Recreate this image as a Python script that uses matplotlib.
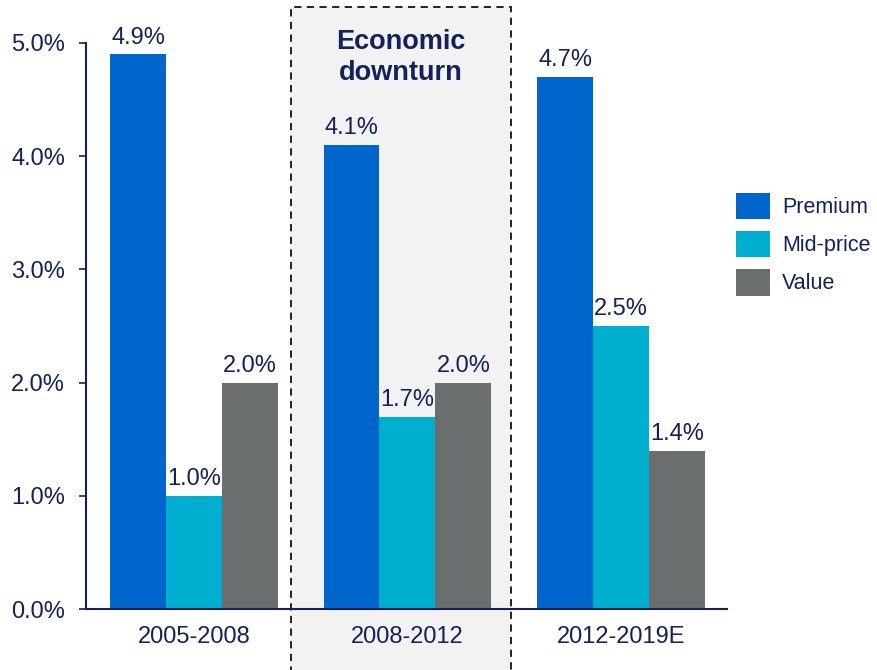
import matplotlib
matplotlib.use("Agg")
import matplotlib.pyplot as plt
from matplotlib.patches import Rectangle
import numpy as np

plt.rcParams['font.family'] = ['Liberation Sans', 'DejaVu Sans']

periods = ["2005-2008", "2008-2012", "2012-2019E"]
segments = ["Premium", "Mid-price", "Value"]
premium = [4.9, 4.1, 4.7]
mid_price = [1.0, 1.7, 2.5]
value = [2.0, 2.0, 1.4]
y_ticks = [0.0, 1.0, 2.0, 3.0, 4.0, 5.0]
highlight_label = "Economic\ndownturn"

navy = "#14215a"
colors = ["#0066cc", "#00aecf", "#6b6e6f"]

fig = plt.figure(figsize=(8.77, 6.70), dpi=100)
ax = fig.add_axes([0.098, 0.091, 0.731, 0.845])

x = np.arange(len(periods))
w = 0.262
series = [premium, mid_price, value]
for i, (vals, c, name) in enumerate(zip(series, colors, segments)):
    pos = x + (i - 1) * w
    ax.bar(pos, vals, width=w, color=c, label=name, zorder=3)
    for px, v in zip(pos, vals):
        ax.annotate(f"{v:.1f}%", (px, v), xytext=(0, 4), textcoords="offset points",
                    ha="center", va="bottom", fontsize=17, color=navy, zorder=4)

ax.set_xlim(-0.506, 2.497)
ax.set_ylim(0, 5)
ax.set_yticks(y_ticks)
ax.set_yticklabels([f"{t:.1f}%" for t in y_ticks])
ax.set_xticks(x)
ax.set_xticklabels(periods)
ax.tick_params(axis="y", labelsize=17, colors=navy, length=5, width=1.2, pad=10)
ax.tick_params(axis="x", labelsize=17, colors=navy, length=0, pad=12)
for s in ["top", "right"]:
    ax.spines[s].set_visible(False)
for s in ["left", "bottom"]:
    ax.spines[s].set_color(navy)
    ax.spines[s].set_linewidth(1.5)
ax.spines["bottom"].set_zorder(5)

# Shaded, dashed frame marking the downturn period
trans = matplotlib.transforms.blended_transform_factory(ax.transData, ax.transAxes)
box = Rectangle((0.454, -0.12), 1.031, 1.184, transform=trans, facecolor="#f2f2f2",
                edgecolor="#111111", linestyle=(0, (4, 3)), linewidth=1.3,
                clip_on=False, zorder=1)
ax.add_patch(box)
ax.text(0.97, 1.024, highlight_label, transform=trans, ha="center", va="top",
        fontsize=19.5, fontweight="bold", color=navy, linespacing=1.22, zorder=4)

leg = ax.legend(loc="upper left", bbox_to_anchor=(1.001, 0.75), frameon=False,
                fontsize=15.5, handlelength=1.58, handleheight=1.5,
                handletextpad=0.55, labelspacing=0.55, borderaxespad=0)
for t in leg.get_texts():
    t.set_color(navy)

fig.savefig("out.png", dpi=100)
